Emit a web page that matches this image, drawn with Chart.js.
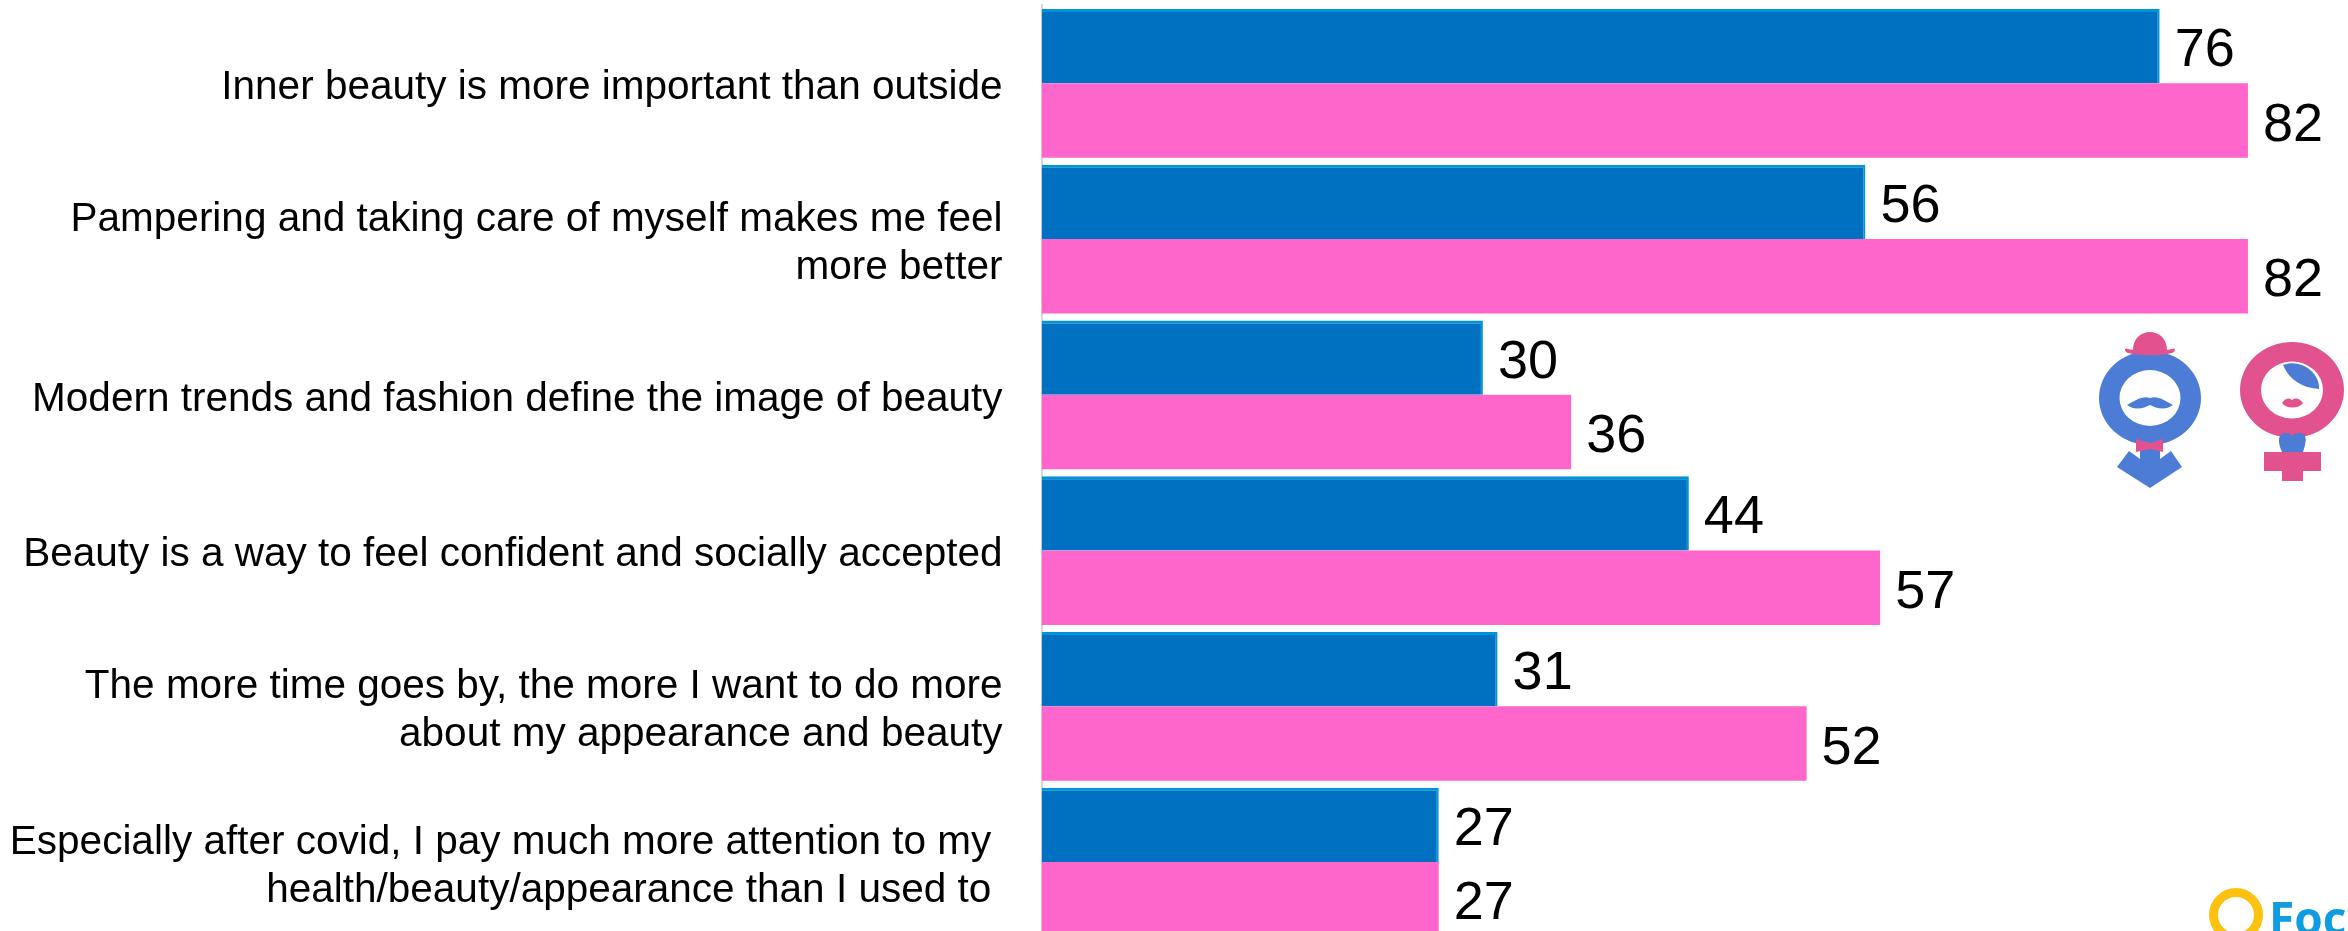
<!DOCTYPE html>
<html>
<head>
<meta charset="utf-8">
<title>Beauty attitudes by gender</title>
<script src="https://cdn.jsdelivr.net/npm/chart.js@4"></script>
<style>
  html, body { margin: 0; padding: 0; background: #fff; overflow: hidden; }
  #wrap { width: 2348px; height: 940px; }
</style>
</head>
<body>
<div id="wrap"><canvas id="chart"></canvas></div>
<script>
const categories = [
  ['Inner beauty is more important than outside'],
  ['Pampering and taking care of myself makes me feel', 'more better'],
  ['Modern trends and fashion define the image of beauty'],
  ['Beauty is a way to feel confident and socially accepted'],
  ['The more time goes by, the more I want to do more', 'about my appearance and beauty'],
  ['Especially after covid, I pay much more attention to my ', 'health/beauty/appearance than I used to ']
];
const menValues = [76, 56, 30, 44, 31, 27];
const womenValues = [82, 82, 36, 57, 52, 27];

const MALE_BLUE = '#4c7cd6';
const FEMALE_PINK = '#e2528f';

// value text just past the end of each bar
const valueLabels = {
  id: 'valueLabels',
  afterDatasetsDraw(chart) {
    const { ctx } = chart;
    ctx.save();
    ctx.font = '54px "Liberation Sans"';
    ctx.fillStyle = '#000';
    ctx.textAlign = 'left';
    ctx.textBaseline = 'alphabetic';
    chart.data.datasets.forEach((ds, i) => {
      chart.getDatasetMeta(i).data.forEach((bar, j) => {
        ctx.fillText(ds.data[j], bar.x + 15, bar.y + 20);
      });
    });
    ctx.restore();
  }
};

function ring(ctx, x, y, rx, ry, irx, iry, color) {
  ctx.fillStyle = color;
  ctx.beginPath();
  ctx.ellipse(x, y, rx, ry, 0, 0, Math.PI * 2);
  ctx.ellipse(x, y, irx, iry, 0, 0, Math.PI * 2, true);
  ctx.fill();
}

function shape(ctx, d, color) {
  ctx.fillStyle = color;
  ctx.fill(new Path2D(d));
}

// gender icons and the logo in the corner
const decorations = {
  id: 'decorations',
  afterDraw(chart) {
    const { ctx } = chart;
    ctx.save();

    // man
    ring(ctx, 2150, 398, 51, 47, 30.5, 28, MALE_BLUE);
    shape(ctx, 'M2133 350 C2133 326 2167 326 2167 350 L2172 349 C2176 347 2176 351 2172 353 C2160 356 2140 356 2128 353 C2124 351 2124 347 2128 349 Z', FEMALE_PINK);
    shape(ctx, 'M2127 405 C2134 401 2143 395 2150 398 C2157 395 2166 401 2173 405 C2165 411 2156 408 2150 405 C2144 408 2135 411 2127 405 Z', MALE_BLUE);
    shape(ctx, 'M2140 443 H2160 V459 L2171 451 L2182 467 L2150 488 L2117 467 L2129 451 L2140 459 Z', MALE_BLUE);
    shape(ctx, 'M2136 439 L2150 443 L2163 439 V452 L2150 449 L2136 452 Z', FEMALE_PINK);

    // woman
    ring(ctx, 2292, 390, 52, 48, 31, 28.5, FEMALE_PINK);
    shape(ctx, 'M2283 365 C2300 358 2320 372 2319 389 C2303 388 2289 380 2283 365 Z', MALE_BLUE);
    shape(ctx, 'M2282 403 C2286 397 2290 398 2292 400 C2294 398 2299 397 2303 403 C2299 409 2286 409 2282 403 Z', FEMALE_PINK);
    shape(ctx, 'M2282 452 C2276 438 2280 433 2286 433 C2289 433 2291 434 2292 436 C2294 434 2296 433 2299 433 C2306 433 2308 438 2303 452 Z', MALE_BLUE);
    shape(ctx, 'M2264 452 H2321 V471 H2303 V481 H2282 V471 H2264 Z', FEMALE_PINK);

    // logo
    ctx.strokeStyle = '#fdc20f';
    ctx.lineWidth = 9;
    ctx.beginPath();
    ctx.arc(2236, 915, 22.5, 0, Math.PI * 2);
    ctx.stroke();
    ctx.fillStyle = '#0f9ce0';
    ctx.font = 'bold 46px "Open Sans"';
    ctx.textAlign = 'left';
    ctx.textBaseline = 'alphabetic';
    ctx.fillText('Focus', 2269, 935);
    ctx.restore();
  }
};

new Chart('chart', {
  type: 'bar',
  data: {
    labels: categories,
    datasets: [
      {
        label: 'Men',
        data: menValues,
        backgroundColor: '#0070c0',
        borderColor: '#0095d9',
        borderWidth: { top: 3, right: 2, bottom: 0, left: 0 },
        borderSkipped: false
      },
      {
        label: 'Women',
        data: womenValues,
        backgroundColor: '#ff66cc',
        borderWidth: 0
      }
    ]
  },
  options: {
    indexAxis: 'y',
    responsive: true,
    maintainAspectRatio: false,
    animation: false,
    categoryPercentage: 0.955,
    barPercentage: 1,
    layout: { padding: { top: 5.45, bottom: 0, left: 0, right: 0 } },
    plugins: {
      legend: { display: false },
      tooltip: { enabled: false }
    },
    scales: {
      x: {
        min: 0,
        max: 88.8,
        display: false
      },
      y: {
        afterFit(scale) {
          // fixed label gutter, and no extra room for the taller first/last labels
          scale.width = 1041.5;
          scale.paddingTop = 0;
          scale.paddingBottom = 0;
        },
        grid: { display: false, drawTicks: false },
        border: { color: '#d9d9d9', width: 2 },
        ticks: {
          padding: 39,
          labelOffset: 4.5,
          color: '#000',
          font: { family: '"Liberation Sans"', size: 40.5, lineHeight: 1.185 }
        }
      }
    }
  },
  plugins: [valueLabels, decorations]
});
</script>
</body>
</html>
